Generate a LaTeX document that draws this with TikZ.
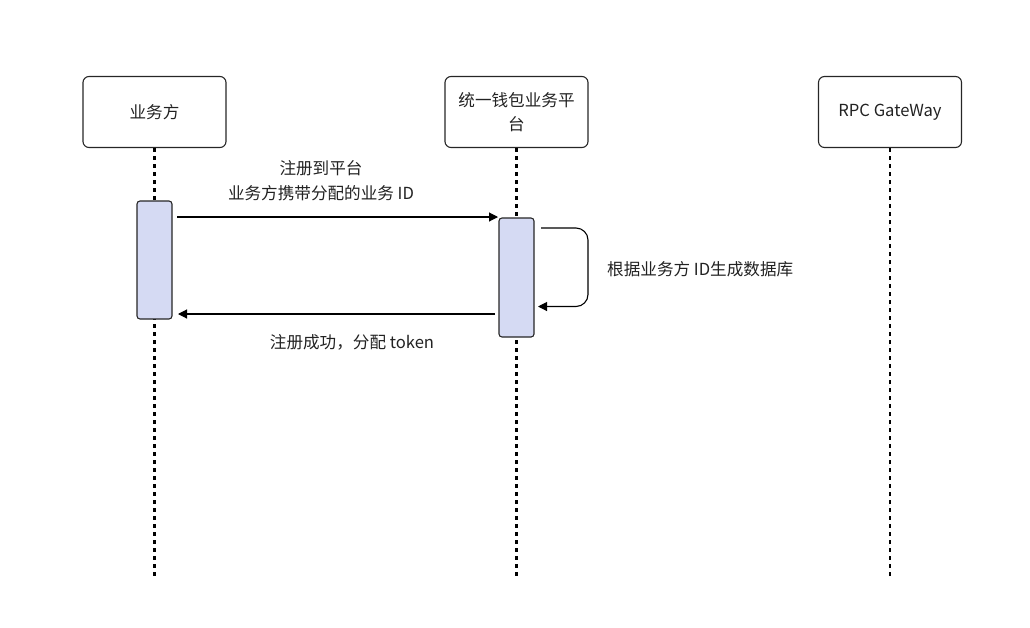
\documentclass[tikz,border=0pt]{standalone}
\usepackage{fontspec}
\setmainfont{Noto Sans CJK SC}
\usetikzlibrary{arrows.meta}
\definecolor{actfill}{HTML}{D5DAF3}
\definecolor{txt}{HTML}{222222}
\begin{document}
\begin{tikzpicture}[x=1pt,y=-1pt,
  actor/.style={draw=black!85, line width=1.1pt, rounded corners=6pt, minimum width=143pt, minimum height=71pt, inner sep=0pt, align=center, text=txt, font=\fontsize{16.6}{24}\selectfont},
  act/.style={draw=black!85, fill=actfill, line width=1.1pt, rounded corners=3pt, minimum width=35pt, inner sep=0pt},
  lifeline/.style={line width=2.4pt, dash pattern=on 4pt off 4pt},
  msg/.style={line width=1.1pt, -{Triangle[length=9pt,width=9pt]}},
  lbl/.style={text=txt, font=\fontsize{16.6}{25}\selectfont, align=center, inner sep=0pt}]
\useasboundingbox (0,0) rectangle (1030,627);
% actors
\node[actor] (a) at (154.5,112) {业务方};
\node[actor] (b) at (516.5,112) {统一钱包业务平\\台};
\node[actor] (c) at (890,112) {RPC GateWay};
% lifeline ends
\coordinate (ae) at (154.5,576);
\coordinate (be) at (516.5,576);
\coordinate (ce) at (890,576);
\draw[lifeline] (a.south) -- (ae);
\draw[lifeline] (b.south) -- (be);
\draw[lifeline] (c.south) -- (ce);
% activations
\node[act, minimum height=118pt] (aa) at (154.5,260) {};
\node[act, minimum height=119pt] (ba) at (516.5,277.5) {};
% messages
\coordinate (m1s) at (177,217);
\coordinate (m1e) at (498,217);
\draw[msg] (m1s) -- (m1e);
\node[lbl] (l1) at (321,181) {注册到平台\\业务方携带分配的业务 ID};
\coordinate (s1) at (541,228);
\coordinate (s2) at (538,306.5);
\draw[msg, rounded corners=12pt] (s1) -- (588,228) -- (588,306.5) -- (s2);
\node[lbl, anchor=west] (l2) at (607,269) {根据业务方 ID生成数据库};
\coordinate (m2s) at (495,314);
\coordinate (m2e) at (178,314);
\draw[msg] (m2s) -- (m2e);
\node[lbl] (l3) at (352,342) {注册成功，分配 token};
\end{tikzpicture}
\end{document}
